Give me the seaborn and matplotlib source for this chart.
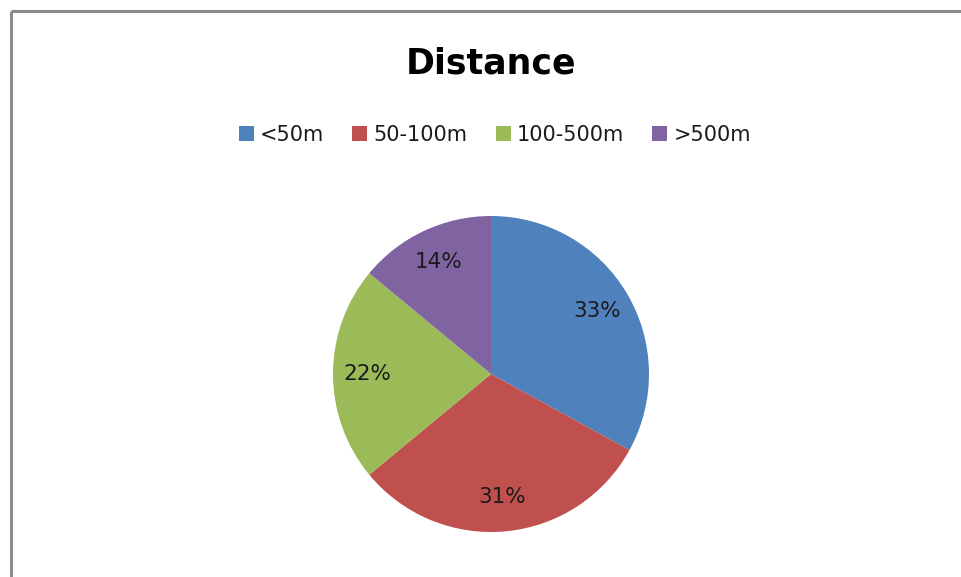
import matplotlib
matplotlib.use("Agg")
import matplotlib.pyplot as plt
from matplotlib.lines import Line2D
from matplotlib.patches import Patch
import seaborn as sns

categories = ["<50m", "50-100m", "100-500m", ">500m"]
shares = [33, 31, 22, 14]
colors = ["#4F81BD", "#C0504D", "#9BBB59", "#8064A2"]
title = "Distance"

sns.set_theme(style="white")
plt.rcParams["font.family"] = ["DejaVu Sans"]

W, H = 961, 577
fig = plt.figure(figsize=(W / 100, H / 100), dpi=100)
fig.patch.set_facecolor("white")

# chart frame (top-left corner of the chart area)
fx, fy = 10.5 / W, 1 - 11 / H
fig.add_artist(Line2D([fx, 1.01], [fy, fy], transform=fig.transFigure,
                      color="#8c8c8c", lw=2.2, solid_capstyle="butt"))
fig.add_artist(Line2D([fx, fx], [fy, -0.01], transform=fig.transFigure,
                      color="#8c8c8c", lw=2.2, solid_capstyle="butt"))

# pie area
cx, cy, r = 491, 374, 158
ax = fig.add_axes([(cx - r) / W, (H - cy - r) / H, 2 * r / W, 2 * r / H])
wedges, texts, autotexts = ax.pie(
    shares, colors=colors, startangle=90, counterclock=False,
    autopct=lambda p: f"{p:.0f}%", pctdistance=0.78,
    wedgeprops=dict(linewidth=0),
    textprops=dict(fontsize=15.5, color="#1a1a1a"),
)
ax.set_xlim(-1, 1)
ax.set_ylim(-1, 1)
ax.set_aspect("equal")
ax.axis("off")

fig.text(cx / W, 1 - 74 / H, title, ha="center", va="baseline",
         fontsize=25, fontweight="bold", color="black")

handles = [Patch(facecolor=c, edgecolor="none") for c in colors]
fig.legend(handles, categories, loc="center", bbox_to_anchor=(495 / W, 1 - 135 / H),
           ncol=4, frameon=False, fontsize=15, handlelength=0.72, handleheight=0.72,
           handletextpad=0.3, columnspacing=1.35,
           labelcolor="#1a1a1a")

fig.savefig("out.png", dpi=100, facecolor="white")
